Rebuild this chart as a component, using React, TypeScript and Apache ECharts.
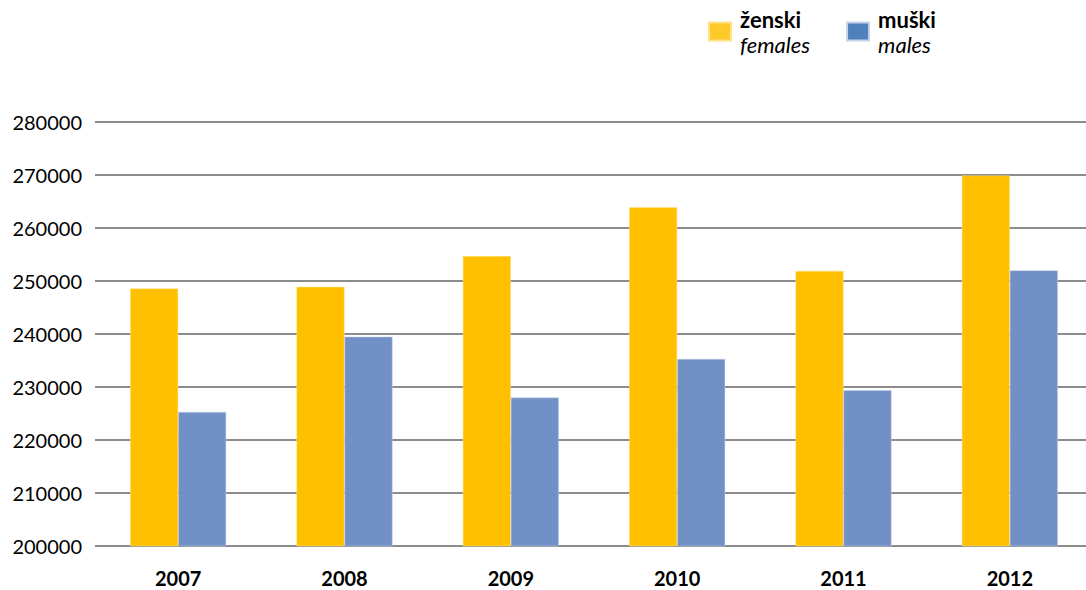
import React, { useEffect, useRef } from "react";
import * as echarts from "echarts";

const years = ["2007", "2008", "2009", "2010", "2011", "2012"];
const females = [248600, 248900, 254700, 263900, 251900, 269900];
const males = [225300, 239500, 228000, 235300, 229400, 252000];
const seriesNames = ["ženski", "muški"];
const seriesNamesEn = ["females", "males"];
const yTicks = { min: 200000, max: 280000, interval: 10000 };

export default function App() {
  const ref = useRef<HTMLDivElement>(null);
  useEffect(() => {
    document.body.style.margin = "0";
    const chart = echarts.init(ref.current!, null, { renderer: "svg" });
    const font = "Lato, 'Noto Sans', sans-serif";
    chart.setOption({
      animation: false,
      backgroundColor: "#ffffff",
      legend: {
        left: 703,
        top: 3,
        itemWidth: 22,
        itemHeight: 18,
        itemGap: 36,
        icon: "rect",
        data: [
          { name: seriesNames[0], itemStyle: { color: "#FFC928" } },
          { name: seriesNames[1], itemStyle: { color: "#4F81BD" } },
        ],
        formatter: (name: string) => {
          const i = seriesNames.indexOf(name);
          return `{b|${name}}\n{i|${seriesNamesEn[i]}}`;
        },
        textStyle: {
          fontFamily: font,
          padding: [0, 0, 0, 4],
          rich: {
            b: { fontFamily: font, fontWeight: "bold", fontSize: 22, color: "#000", lineHeight: 25 },
            i: { fontFamily: font, fontStyle: "italic", fontSize: 22, color: "#000", lineHeight: 25 },
          },
        },
      },
      grid: { left: 95, top: 122, right: 7, height: 424, containLabel: false },
      xAxis: {
        type: "category",
        data: years,
        axisLine: { show: false },
        axisTick: { show: false },
        axisLabel: {
          fontFamily: font,
          fontWeight: "bold",
          fontSize: 20,
          color: "#000",
          margin: 22,
        },
      },
      yAxis: {
        type: "value",
        min: yTicks.min,
        max: yTicks.max,
        interval: yTicks.interval,
        axisLine: { show: false },
        axisTick: { show: false },
        axisLabel: {
          fontFamily: font,
          fontSize: 20,
          color: "#000",
          margin: 13,
          formatter: (v: number) => String(v),
        },
        splitLine: { lineStyle: { color: "#8c8c8c", width: 2 } },
      },
      series: [
        {
          name: seriesNames[0],
          type: "bar",
          data: females,
          barWidth: 48,
          barGap: "0%",
          itemStyle: { color: "#FFC000", borderColor: "#FFE28A", borderWidth: 0.5 },
        },
        {
          name: seriesNames[1],
          type: "bar",
          data: males,
          barWidth: 48,
          barGap: "0%",
          itemStyle: { color: "#7090C6", borderColor: "#C6D3EA", borderWidth: 0.5 },
        },
      ],
    });
    return () => chart.dispose();
  }, []);
  return (
    <div style={{ width: 1086, height: 590, overflow: "hidden", position: "relative" }}>
      <div ref={ref} style={{ width: 1100, height: 590 }} />
    </div>
  );
}
